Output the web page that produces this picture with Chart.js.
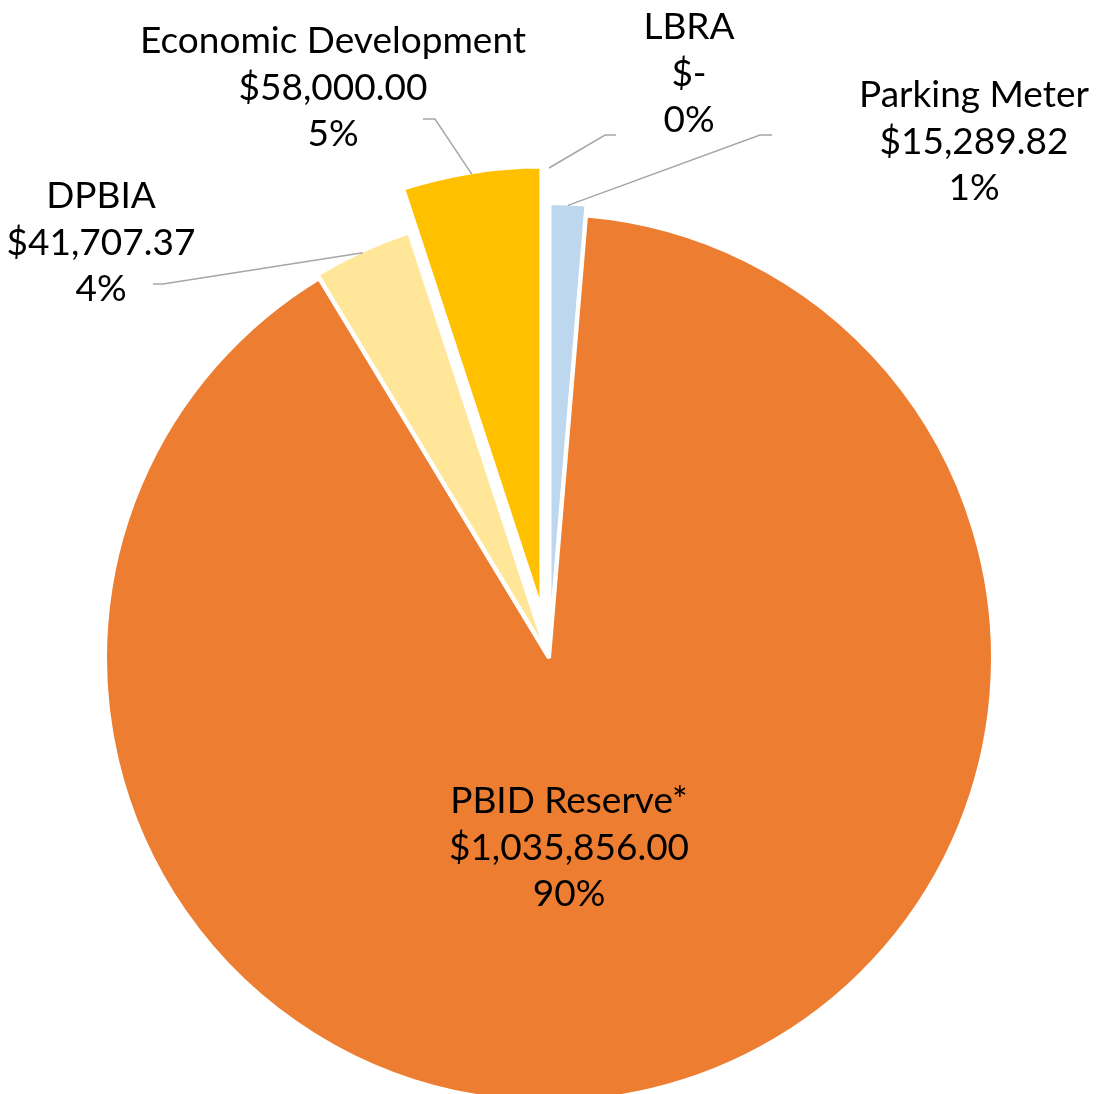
<!DOCTYPE html>
<html>
<head>
<meta charset="utf-8">
<title>PBID fund distribution</title>
<script src="https://cdn.jsdelivr.net/npm/chart.js@4.4.1/dist/chart.umd.min.js"></script>
<style>
  html, body { margin: 0; padding: 0; background: #ffffff; }
  #wrap { position: relative; width: 1096px; height: 1094px; }
</style>
</head>
<body>
<div id="wrap"><canvas id="fund-chart"></canvas></div>
<script>
// Data (clockwise from 12 o'clock)
const categories = ["LBRA", "Parking Meter", "PBID Reserve*", "DPBIA", "Economic Development"];
const amounts = [0, 15289.82, 1035856.0, 41707.37, 58000.0];
const sliceColors = ["#A5A5A5", "#BDD7EE", "#ED7D31", "#FFE699", "#FFC000"];
const explode = [48, 11, 0, 4, 48];

// Where Excel placed each data label: centre x, first baseline, leader elbow
const labelLayout = [
  { x: 689, y: 39, elbow: [[616, 135], [605, 135]] },
  { x: 974, y: 107, elbow: [[772, 135], [760, 135]] },
  { x: 569, y: 813, elbow: null },
  { x: 101, y: 208, elbow: [[153, 284], [163, 284]] },
  { x: 333, y: 53, elbow: [[423, 119], [435, 119]] },
];

const FONT = "37px Lato, 'Open Sans', sans-serif";
const LINE_HEIGHT = 46.5;

// Định dạng kiểu "accounting" của Excel
function formatMoney(v) {
  if (!v) return "$-";
  return "$" + v.toLocaleString("en-US", { minimumFractionDigits: 2, maximumFractionDigits: 2 });
}

// Tách lát bánh ra ngoài (dịch chuyển thuần, giống Excel)
const explodedSlices = {
  id: "explodedSlices",
  beforeDatasetDraw(chart, args) {
    const ctx = chart.ctx;
    args.meta.data.forEach((arc, i) => {
      const p = arc.getProps(["startAngle", "endAngle"], true);
      const mid = (p.startAngle + p.endAngle) / 2;
      ctx.save();
      ctx.translate(Math.cos(mid) * explode[i], Math.sin(mid) * explode[i]);
      arc.draw(ctx);
      ctx.restore();
    });
    return false;
  },
};

// Plugin vẽ nhãn dữ liệu và đường dẫn
const pieLabels = {
  id: "pieLabels",
  afterDatasetsDraw(chart) {
    const ctx = chart.ctx;
    const meta = chart.getDatasetMeta(0);
    const total = amounts.reduce((a, b) => a + b, 0);

    ctx.save();
    meta.data.forEach((arc, i) => {
      const p = arc.getProps(["x", "y", "startAngle", "endAngle", "outerRadius"], true);
      const mid = (p.startAngle + p.endAngle) / 2;
      const off = explode[i];
      const lay = labelLayout[i];

      // leader line: elbow -> outer edge of the slice at its middle angle
      if (lay.elbow) {
        const r = p.outerRadius - 2;
        const ex = p.x + Math.cos(mid) * (off + r);
        const ey = p.y + Math.sin(mid) * (off + r);
        ctx.beginPath();
        ctx.strokeStyle = "#A6A6A6";
        ctx.lineWidth = 1.5;
        ctx.moveTo(lay.elbow[0][0], lay.elbow[0][1]);
        ctx.lineTo(lay.elbow[1][0], lay.elbow[1][1]);
        ctx.lineTo(ex, ey);
        ctx.stroke();
      }

      const pct = Math.round((amounts[i] / total) * 100) + "%";
      const lines = [categories[i], formatMoney(amounts[i]), pct];
      ctx.font = FONT;
      ctx.fillStyle = "#000000";
      ctx.textAlign = "center";
      ctx.textBaseline = "alphabetic";
      lines.forEach((t, k) => {
        ctx.fillText(t, lay.x, lay.y + k * LINE_HEIGHT);
      });
    });
    ctx.restore();
  },
};

const ctx = document.getElementById("fund-chart").getContext("2d");
new Chart(ctx, {
  type: "pie",
  data: {
    labels: categories,
    datasets: [
      {
        data: amounts,
        backgroundColor: sliceColors,
        borderColor: "#ffffff",
        borderWidth: 4,
        radius: 444,
        clip: false,
      },
    ],
  },
  options: {
    responsive: true,
    maintainAspectRatio: false,
    animation: false,
    events: [],
    layout: {
      padding: { left: 2, right: 0, top: 222, bottom: 0 },
    },
    plugins: {
      legend: { display: false },
      tooltip: { enabled: false },
    },
  },
  plugins: [explodedSlices, pieLabels],
});
</script>
</body>
</html>
